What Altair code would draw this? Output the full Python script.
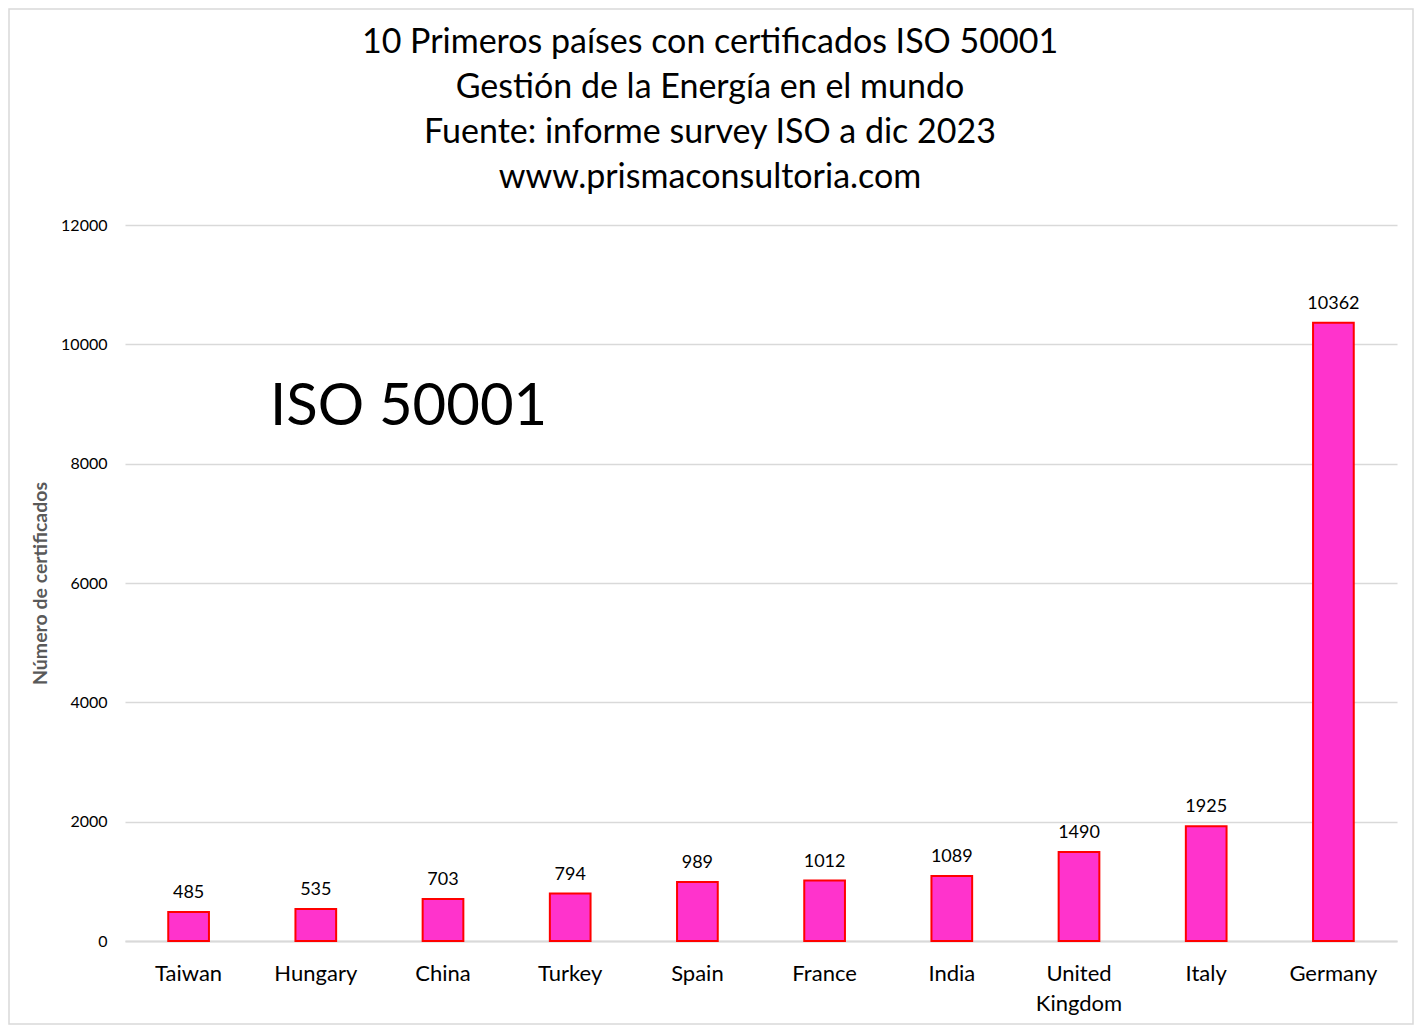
import altair as alt
import pandas as pd

countries = ["Taiwan", "Hungary", "China", "Turkey", "Spain", "France",
             "India", "United Kingdom", "Italy", "Germany"]
certificates = [485, 535, 703, 794, 989, 1012, 1089, 1490, 1925, 10362]
title_lines = ["10 Primeros países con certificados ISO 50001",
               "Gestión de la Energía en el mundo",
               "Fuente: informe survey ISO a dic 2023",
               "www.prismaconsultoria.com"]
y_ticks = [0, 2000, 4000, 6000, 8000, 10000, 12000]
y_title = "Número de certificados"
annotation = "ISO 50001"

df = pd.DataFrame({"country": countries, "value": certificates})

FONT = "Lato"
W, H = 1272, 716
PL, PT, PR, PB = 117, 217, 17, 84

x = alt.X("country:N", sort=countries, title=None,
          scale=alt.Scale(paddingInner=0.68, paddingOuter=0.34),
          axis=alt.Axis(labelAngle=0, labelFontSize=22, labelFont=FONT,
                        labelColor="#000000", labelPadding=22,
                        labelExpr="split(datum.label, ' ')",
                        labelLineHeight=30, ticks=False,
                        domainColor="#D9D9D9", domainWidth=2, labelLimit=0))
y = alt.Y("value:Q", scale=alt.Scale(domain=[0, 12000], nice=False),
          axis=alt.Axis(values=y_ticks, title=y_title, titleFont=FONT,
                        titleFontSize=19.5, titleFontWeight="bold",
                        titleColor="#595959", titlePadding=10,
                        labelFont=FONT, labelFontSize=16, labelColor="#000000",
                        labelPadding=18, ticks=False, domain=False,
                        gridColor="#D9D9D9", gridWidth=1.3, format="d"))

base = alt.Chart(df)

bars = base.mark_bar(fill="#FF33CC", stroke="#FF0000", strokeWidth=2).encode(x=x, y=y)

labels = base.mark_text(font=FONT, fontSize=18, color="#000000",
                        baseline="alphabetic", dy=-14).encode(
    x=alt.X("country:N", sort=countries),
    y=alt.Y("value:Q"),
    text=alt.Text("value:Q", format="d"))

big = alt.Chart(pd.DataFrame({"t": [annotation]})).mark_text(
    font=FONT, fontSize=58, color="#000000", align="left",
    baseline="alphabetic").encode(
    x=alt.value(145), y=alt.value(200), text="t:N")

title = alt.Chart(pd.DataFrame({"t": [0]})).mark_text(
    font=FONT, fontSize=34, color="#000000", align="center",
    baseline="alphabetic", lineHeight=45).encode(
    x=alt.value(585), y=alt.value(-172), text=alt.value(title_lines))

border = alt.Chart(pd.DataFrame({"b": [0]})).mark_rect(
    fill=None, stroke="#D9D9D9", strokeWidth=1.5, clip=False).encode(
    x=alt.value(-PL + 1), x2=alt.value(W + PR - 1),
    y=alt.value(-PT + 1), y2=alt.value(H + PB - 1))

chart = alt.layer(border, bars, labels, big, title).properties(
    width=W, height=H,
    autosize=alt.AutoSizeParams(type="none"),
    padding={"left": PL, "top": PT, "right": PR, "bottom": PB},
).configure(background="white").configure_view(strokeWidth=0)

chart.save("out.html", embed_options={"renderer": "svg", "actions": False})
